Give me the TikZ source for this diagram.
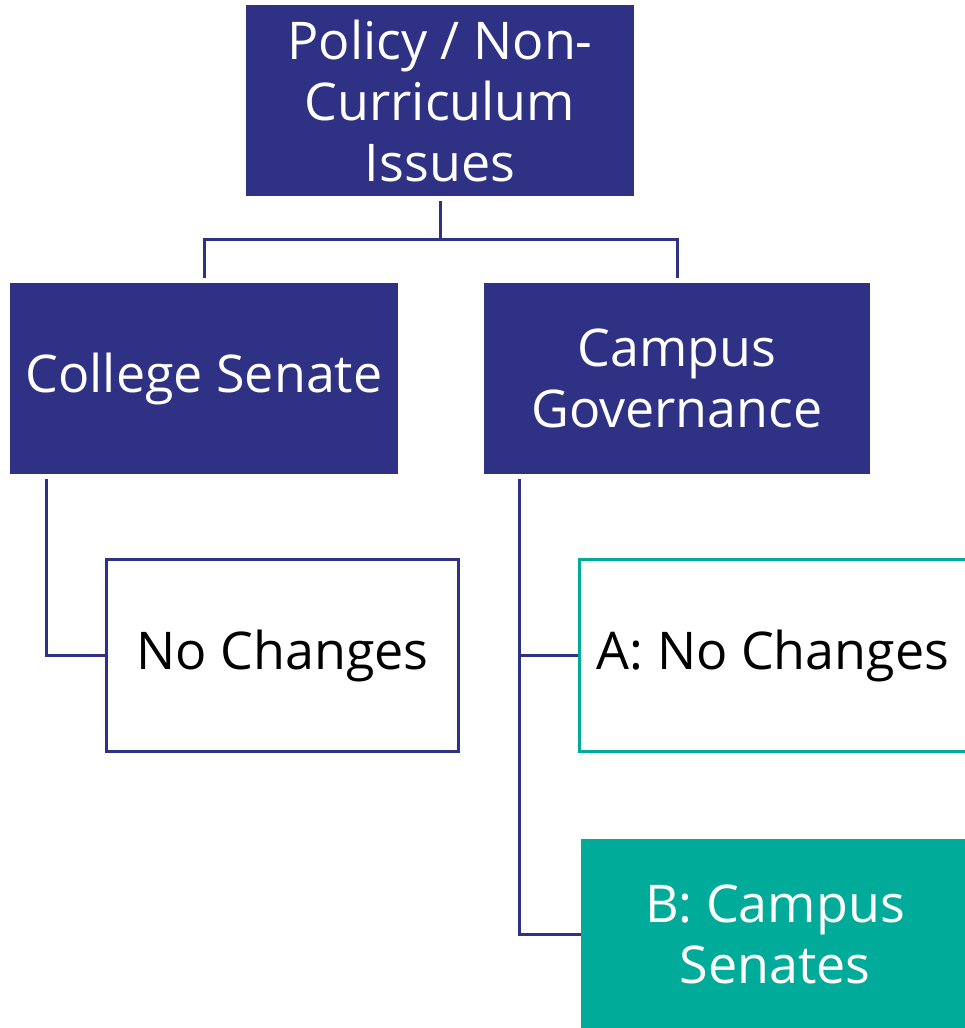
\documentclass[tikz,border=0pt]{standalone}
\usepackage{fontspec}
\setmainfont{Open Sans}
\usetikzlibrary{positioning}

\definecolor{navy}{HTML}{2E3184}
\definecolor{teal}{HTML}{00AB9A}

\tikzset{
  box/.style={rectangle, inner sep=0pt, align=center, font=\fontsize{52}{61}\selectfont},
  darkbox/.style={box, fill=navy, text=white},
  outbox/.style={box, draw=navy, line width=3pt, fill=white, text=black},
  link/.style={draw=navy, line width=3pt, shorten <=5pt}
}

\begin{document}
\begin{tikzpicture}[x=1pt,y=-1pt]
  \useasboundingbox (0,0) rectangle (965,1028);
  \clip (0,0) rectangle (965,1028);

  \node[darkbox, minimum width=388pt, minimum height=191pt] (top) at (440,100.5) {Policy / Non-\\Curriculum\\Issues};
  \node[darkbox, minimum width=388pt, minimum height=191pt] (college) at (204,378.5) {College Senate};
  \node[darkbox, minimum width=386pt, minimum height=191pt] (campus) at (677,378.5) {Campus\\Governance};

  \node[outbox, minimum width=352pt, minimum height=192pt] (nochg) at (282.5,655.5) {No Changes};
  \node[outbox, draw=teal, minimum width=388pt, minimum height=192pt] (optA) at (773,655.5) {A: No Changes};
  \node[darkbox, fill=teal, minimum width=388pt, minimum height=190pt] (optB) at (775,934) {B: Campus\\Senates};

  % tree lines
  \draw[link, shorten >=5pt] (top.south) -- ++(0,43) -| (college.north);
  \draw[link, shorten >=5pt] (top.south) -- ++(0,43) -| (campus.north);
  \draw[link] ([xshift=37pt]college.south west) |- (nochg.west);
  \draw[link] ([xshift=36pt]campus.south west) coordinate (trunk) |- (optB.west);
  \draw[draw=navy, line width=3pt] (trunk |- optA.west) -- (optA.west);
\end{tikzpicture}
\end{document}
